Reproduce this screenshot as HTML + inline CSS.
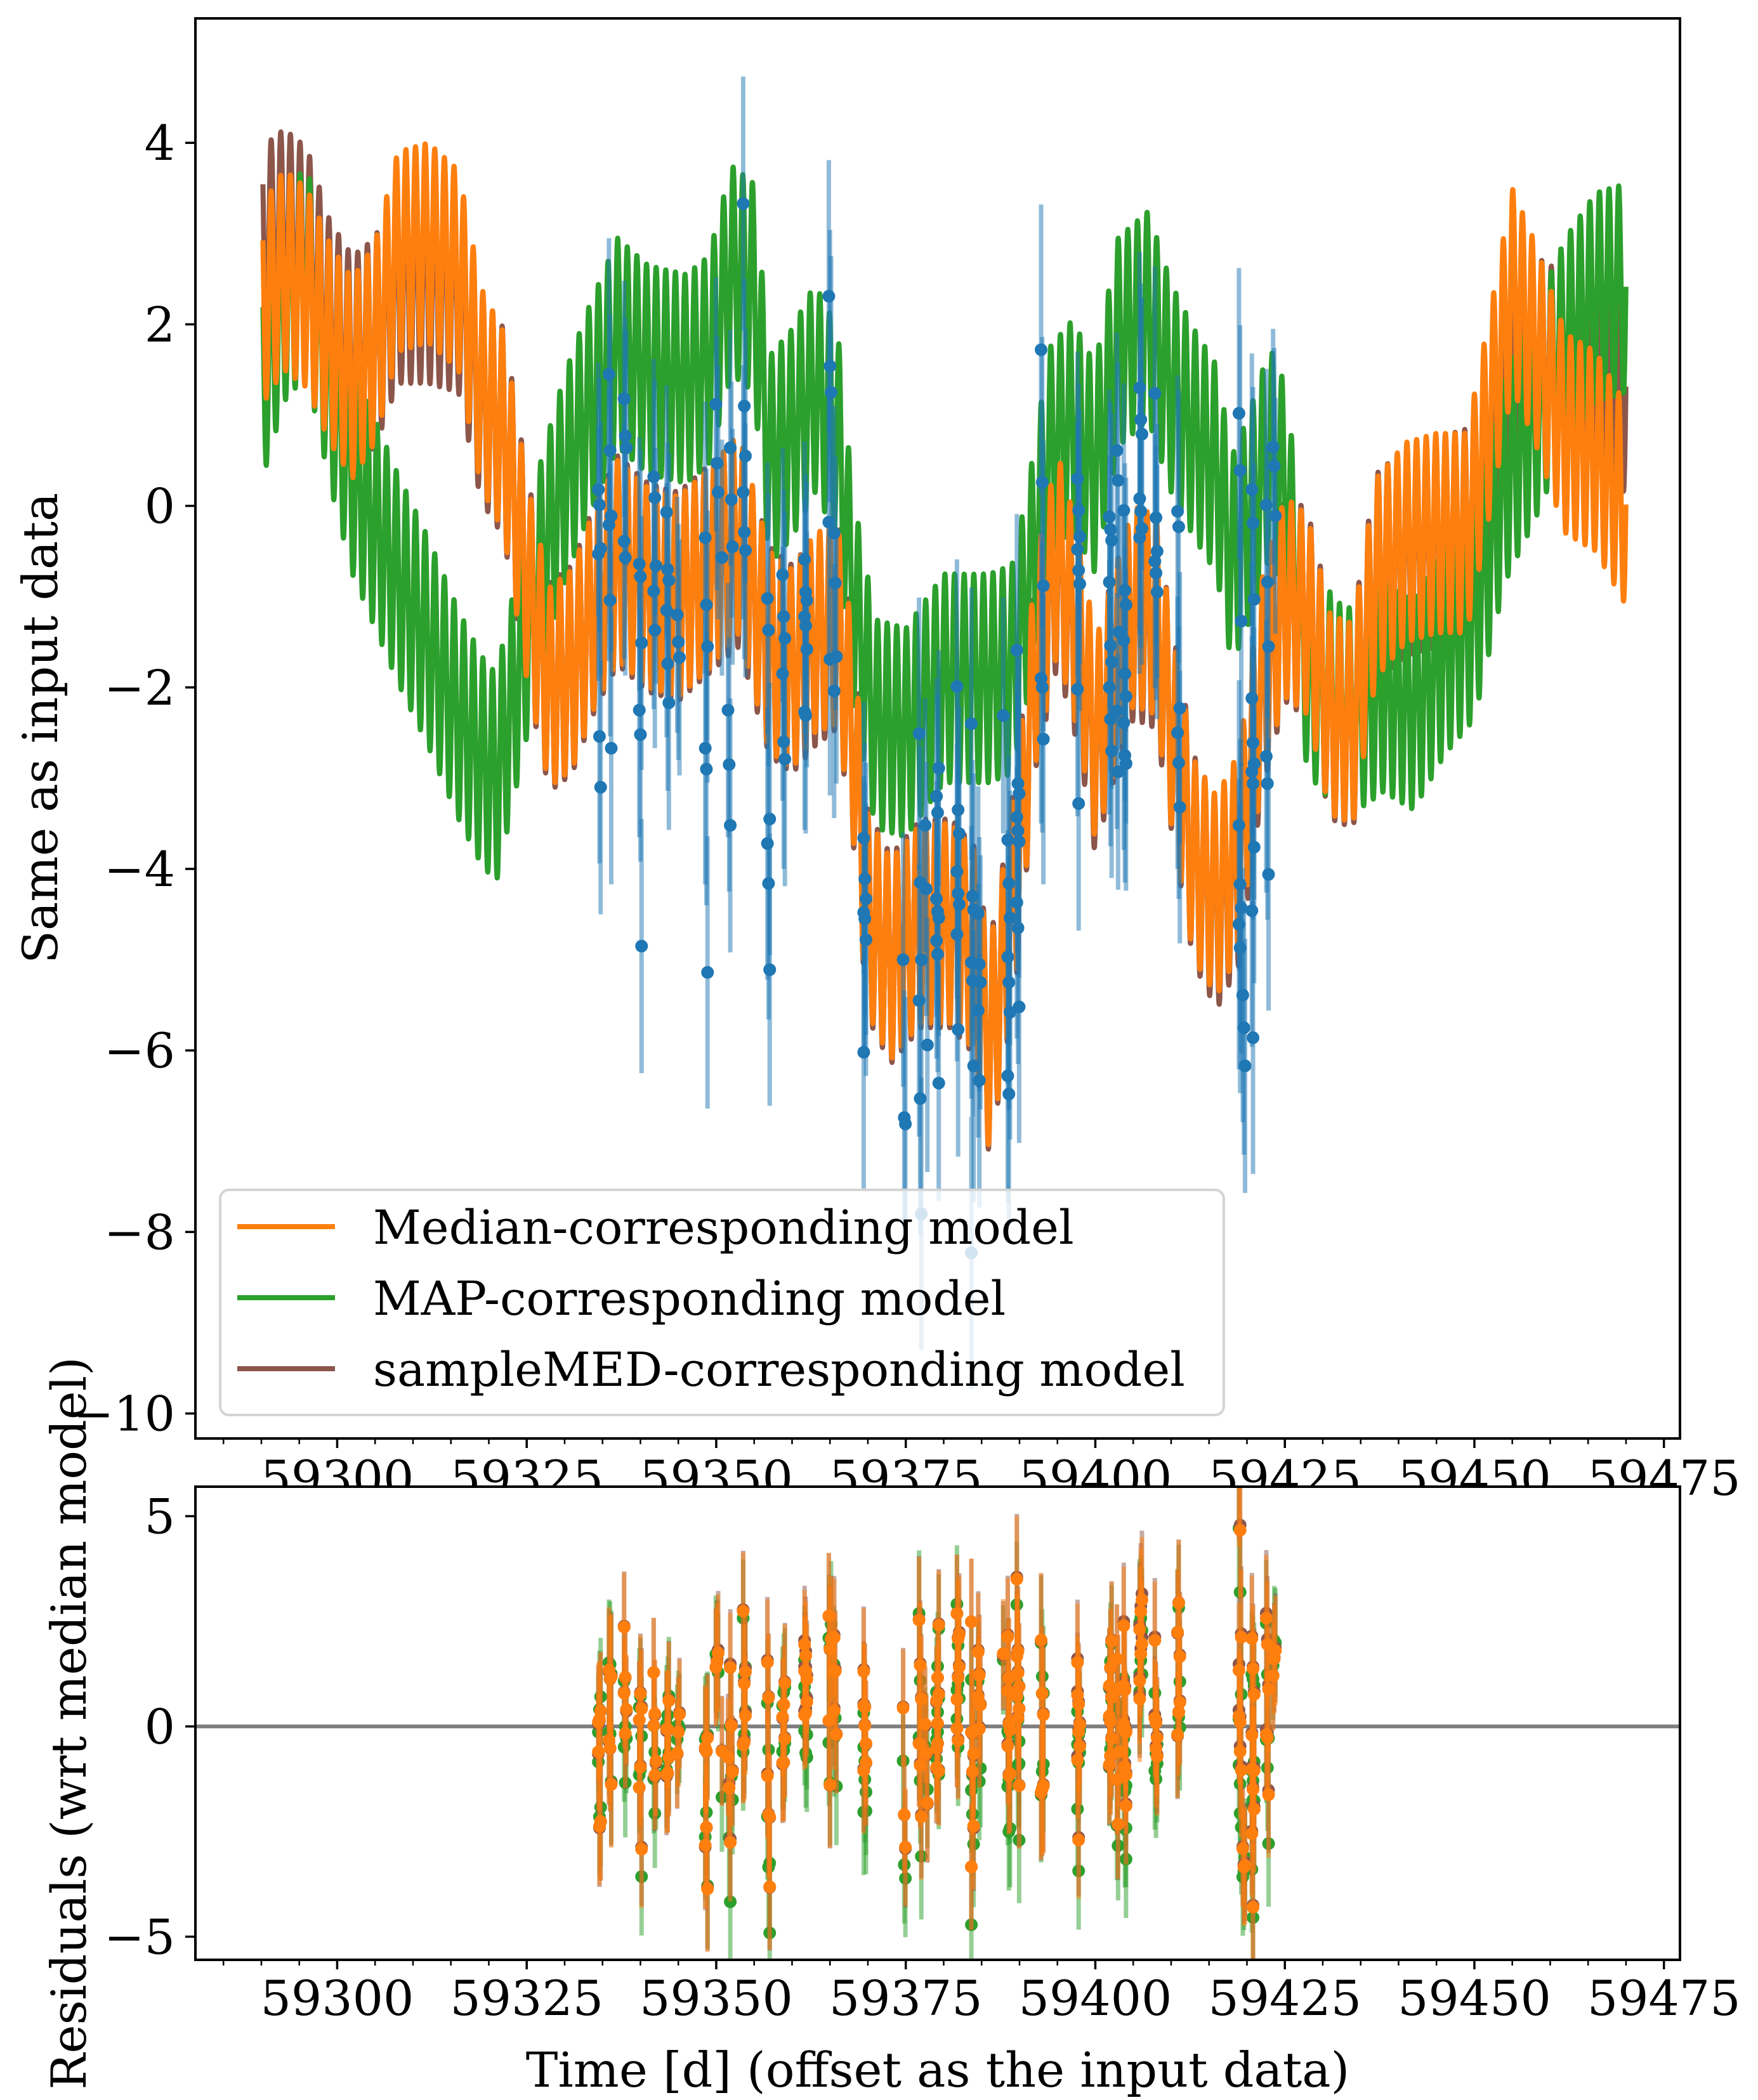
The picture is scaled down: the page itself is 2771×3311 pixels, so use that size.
<!DOCTYPE html>
<html><head><meta charset="utf-8">
<style>
html,body{margin:0;padding:0;background:#fff;}
svg{display:block;}
text{font-family:"DejaVu Serif","Liberation Serif",serif;fill:#000;}
</style></head>
<body>
<svg id="chart" width="2771" height="3311" viewBox="0 0 2771 3311" xmlns="http://www.w3.org/2000/svg">
<defs>
<clipPath id="clipTop"><rect x="308" y="29" width="2340" height="2239"/></clipPath>
<clipPath id="clipBot"><rect x="308" y="2344" width="2340" height="746"/></clipPath>
</defs>
<rect x="0" y="0" width="2771" height="3311" fill="#fff"/>
<g id="topPanel"></g>
<g id="bottomPanel"></g>
</svg>
<script>
// ---- model trends ----
const orangeDays=[59290,59293,59296,59299,59302,59305,59308,59312,59316,59319,59322,59325,59328,59331,59334,59337,59341,59345,59349,59353,59357,59360,59363,59366,59368,59370,59373,59377,59381,59384,59386,59388,59390,59392,59395,59398,59400,59402,59405,59408,59410,59413,59416,59419,59422,59425,59428,59431,59434,59437,59441,59445,59449,59452,59455,59458,59462,59466,59470];
const orangeTrend=[2.2,2.6,2.4,1.8,1.4,1.8,2.8,2.9,2.6,1.3,0.8,-0.8,-2.0,-1.8,-1.1,-0.6,-0.9,-1.0,-0.7,-0.3,-1.6,-1.8,-1.4,-1.3,-2.5,-4.5,-5.0,-4.6,-4.6,-4.9,-6.0,-5.0,-3.8,-1.8,-0.5,-1.5,-2.6,-2.0,-1.1,-1.2,-2.4,-3.9,-4.3,-3.8,-1.9,-1.0,-1.2,-2.3,-2.4,-0.8,-0.4,-0.3,-0.3,1.0,2.4,1.8,0.8,0.6,0.0];
const brownTrend=[2.8,3.0,2.8,2.0,1.6,1.8,2.5,2.5,2.4,1.2,0.8,-0.8,-2.0,-1.8,-1.1,-0.6,-0.9,-1.0,-0.7,-0.4,-1.6,-1.8,-1.5,-1.3,-2.5,-4.5,-5.0,-4.6,-4.6,-4.9,-6.0,-5.0,-3.8,-1.8,-0.6,-1.6,-2.7,-2.0,-1.2,-1.3,-2.4,-3.9,-4.4,-3.9,-2.0,-1.0,-1.2,-2.3,-2.4,-0.8,-0.5,-0.4,-0.3,0.8,1.8,1.6,1.4,1.4,1.3];
const greenDays=[59290,59293,59296,59299,59302,59305,59308,59312,59316,59319,59321,59324,59327,59330,59333,59337,59341,59346,59349,59352,59355,59357,59360,59363,59366,59368,59371,59375,59380,59386,59389,59391,59394,59397,59400,59403,59407,59410,59413,59416,59418,59420,59423,59425,59428,59433,59438,59442,59446,59450,59454,59458,59462,59466,59470];
const greenTrend=[1.4,2.3,2.6,1.4,0.4,-0.2,-0.8,-1.5,-2.3,-2.8,-3.0,-1.8,-0.6,0.3,1.0,1.8,1.5,1.4,1.6,2.6,2.4,0.5,0.8,1.3,0.8,-1.0,-2.4,-2.5,-1.9,-1.9,-1.8,-1.0,0.6,0.9,0.4,1.8,2.1,1.3,0.8,0.4,-0.6,-0.2,0.6,0.2,-1.8,-2.3,-2.0,-2.2,-1.6,-1.2,0.3,1.0,1.8,2.3,2.4];
const modelAmp=[1.1,1.15,1.15]; // orange, green, brown
const oscPeriod=1.2696, oscPeak=59295.1, modelStart=59290.2, modelEnd=59470;

// ---- observations (clusters) ----
const obsDays=[59334.6,59336.0,59338.0,59340.0,59341.9,59343.6,59345.0,59348.7,59350.1,59350.9,59351.7,59352.0,59353.7,59356.9,59358.9,59361.8,59365.0,59365.7,59369.6,59374.8,59376.9,59377.7,59379.2,59381.9,59383.8,59384.7,59388.0,59388.6,59389.8,59393.0,59397.8,59402.0,59403.0,59403.9,59406.0,59408.0,59411.0,59419.1,59419.6,59420.8,59422.7,59423.6];
const obsValues=[[0.18,0.01,-0.47,-0.53,-2.54,-3.10],[1.45,0.61,-0.11,-0.21,-1.04,-2.67],[1.18,0.77,0.64,-0.39,-0.57],[-0.64,-0.78,-1.51,-2.25,-2.52,-4.85],[0.32,0.09,-0.66,-0.94,-1.37],[-0.07,-0.70,-0.82,-1.15,-1.74,-2.17],[-1.20,-1.50,-1.67],[-0.35,-1.09,-1.55,-2.67,-2.90,-5.14],[1.12,0.47,0.15],[-0.57],[-2.25,-2.85,-3.52],[0.64,0.07,-0.45],[3.33,1.10,0.55,0.15,-0.29,-0.49],[-1.02,-1.37,-3.45,-3.72,-4.16,-5.11],[-0.76,-1.22,-1.46,-1.85,-2.60,-2.79],[-0.59,-0.95,-1.04,-1.22,-1.32,-1.58,-2.27,-2.31],[2.31,1.54,1.25,-0.18,-1.69],[-0.30,-0.85,-1.66,-2.04],[-3.66,-4.11,-4.33,-4.48,-4.55,-4.78,-6.02],[-5.0,-6.74,-6.81],[-2.51,-4.15,-5.00,-5.45,-6.53,-7.80],[-3.52,-4.22,-5.94],[-3.20,-3.38,-2.89,-4.33,-4.47,-4.54,-4.79,-4.94,-6.36],[-1.99,-3.35,-3.61,-4.03,-4.27,-4.39,-4.72,-5.77],[-2.40,-4.30,-4.45,-5.03,-5.23,-6.17,-8.23],[-4.49,-5.05,-5.25,-5.56,-6.33],[-2.31],[-3.68,-4.16,-4.54,-4.97,-5.25,-5.58,-6.28,-6.48],[-1.59,-3.06,-3.17,-3.43,-3.58,-3.70,-4.37,-4.65,-5.52],[1.72,0.26,-0.88,-1.90,-2.00,-2.57],[0.30,-0.05,-0.34,-0.48,-0.71,-0.86,-2.02,-3.28],[-0.12,-0.26,-0.38,-0.84,-1.54,-1.72,-2.0,-2.35,-2.70],[0.61,0.28,-1.39,-2.26,-2.93],[-0.05,-0.93,-1.09,-1.48,-1.85,-2.10,-2.39,-2.75,-2.84],[1.30,0.95,0.79,0.08,-0.06,-0.25,-0.35],[1.24,-0.13,-0.50,-0.61,-0.74,-0.95],[-0.06,-0.23,-2.23,-2.50,-2.83,-3.32],[1.02,0.39,-1.27,-3.52,-4.17,-4.43,-4.61,-4.87],[-5.39,-5.75,-6.17],[0.18,-0.19,-1.03,-2.12,-2.61,-2.84,-2.93,-3.06,-3.76,-4.46,-5.86],[0.01,-0.84,-1.55,-2.76,-3.06,-4.06],[0.65,0.44,-0.11]];
const obsErr=[1.4,1.5,1.3,1.4,1.3,1.4,1.3,1.5,1.4,1.3,1.4,1.3,1.4,1.5,1.4,1.3,1.5,1.4,1.5,1.4,1.5,1.4,1.3,1.4,1.5,1.4,1.3,1.4,1.5,1.6,1.4,1.4,1.3,1.4,1.5,1.4,1.5,1.6,1.4,1.5,1.5,1.3];

// ---- ticks ----
const xTicksMajor=[59300,59325,59350,59375,59400,59425,59450,59475];
const xTickLabels=["59300","59325","59350","59375","59400","59425","59450","59475"];
const xTicksMinor=[59285,59290,59295,59305,59310,59315,59320,59330,59335,59340,59345,59355,59360,59365,59370,59380,59385,59390,59395,59405,59410,59415,59420,59430,59435,59440,59445,59455,59460,59465,59470];
const yTopTicks=[4,2,0,-2,-4,-6,-8,-10];
const yTopLabels=["4","2","0","\u22122","\u22124","\u22126","\u22128","\u221210"];
const yBotTicks=[5,0,-5];
const yBotLabels=["5","0","\u22125"];

// ---- geometry ----
const L=308,R=2648,TT=29,TB=2268,BT=2344,BB=3090;
function xS(d){return 308+(d-59281.3)*11.95;}
function yT(v){return 797.6-v*143.1;}
function yB(v){return 2722-v*66.3;}
function interp(ds,vs,t){if(t<=ds[0])return vs[0];for(let i=1;i<ds.length;i++){if(t<=ds[i]){const f=(t-ds[i-1])/(ds[i]-ds[i-1]);return vs[i-1]+f*(vs[i]-vs[i-1]);}}return vs[vs.length-1];}
function osc(t){return Math.cos(2*Math.PI*(t-oscPeak)/oscPeriod);}
function mOrange(t){return interp(orangeDays,orangeTrend,t)+modelAmp[0]*osc(t);}
function mGreen(t){return interp(greenDays,greenTrend,t)+modelAmp[1]*osc(t);}
function mBrown(t){return interp(orangeDays,brownTrend,t)+modelAmp[2]*osc(t);}

const NS="http://www.w3.org/2000/svg";
function mk(tag,attrs,parent){const e=document.createElementNS(NS,tag);for(const k in attrs)e.setAttribute(k,attrs[k]);parent.appendChild(e);return e;}
const topG=document.getElementById('topPanel'), botG=document.getElementById('bottomPanel');

let bg=mk('rect',{x:L,y:TT,width:R-L,height:TB-TT,fill:'#fff'},topG);



const curvesG=mk('g',{'clip-path':'url(#clipTop)'},topG);


function modelPath(fn,color,name){
  let d='';
  for(let t=modelStart;t<=modelEnd;t+=0.03){d+=(d?'L':'M')+xS(t).toFixed(1)+','+yT(fn(t)).toFixed(1);}
  const p=mk('path',{d:d,fill:'none',stroke:color,'stroke-width':8,'stroke-linejoin':'round'},curvesG);
  
  
}
modelPath(mBrown,'#8c564b','samplemed-model-line');
modelPath(mGreen,'#2ca02c','map-model-line');
modelPath(mOrange,'#ff7f0e','median-model-line');

const dataG=mk('g',{'clip-path':'url(#clipTop)'},topG);


obsDays.forEach((d,i)=>{
  obsValues[i].forEach((v,j)=>{
    const t=d+(j%3-1)*0.15;
    const x=xS(t);
    const eb=mk('line',{x1:x,x2:x,y1:yT(v+obsErr[i]),y2:yT(v-obsErr[i]),stroke:'#1f77b4','stroke-opacity':0.5,'stroke-width':7},dataG);
    
    
  });
});
obsDays.forEach((d,i)=>{
  obsValues[i].forEach((v,j)=>{
    const t=d+(j%3-1)*0.15;
    const c=mk('circle',{cx:xS(t),cy:yT(v),r:10,fill:'#1f77b4'},dataG);
    
    
  });
});

const lg=mk('g',{},topG);


mk('rect',{x:347,y:1876,width:1582,height:355,rx:14,fill:'#fff','fill-opacity':0.8,stroke:'#d4d4d4','stroke-width':4},lg);
const legNames=['Median-corresponding model','MAP-corresponding model','sampleMED-corresponding model'];
const legColors=['#ff7f0e','#2ca02c','#8c564b'];
const legIds=['legend-entry-median','legend-entry-map','legend-entry-samplemed'];
legNames.forEach((n,i)=>{
  const yb=1961+i*112;
  const g=mk('g',{},lg);
  
  
  mk('line',{x1:374,x2:528,y1:yb-27,y2:yb-27,stroke:legColors[i],'stroke-width':8},g);
  const tx=mk('text',{x:588,y:yb,'font-size':74},g);
  tx.textContent=n;
});

const tAx=mk('g',{},topG);


mk('rect',{x:L,y:TT,width:R-L,height:TB-TT,fill:'none',stroke:'#000','stroke-width':4},tAx);
yTopTicks.forEach((v,i)=>{
  const y=yT(v);
  mk('line',{x1:L-16,x2:L,y1:y,y2:y,stroke:'#000','stroke-width':3.5},tAx);
  const t=mk('text',{x:276,y:y+27,'font-size':76,'text-anchor':'end'},tAx);
  
  
  t.textContent=yTopLabels[i];
});
function xTicks(g,yAxis,labelBase){
  xTicksMajor.forEach((d,i)=>{
    const x=xS(d);
    mk('line',{x1:x,x2:x,y1:yAxis,y2:yAxis+15,stroke:'#000','stroke-width':3.5},g);
    const t=mk('text',{x:x,y:labelBase,'font-size':76,'text-anchor':'middle'},g);
    
    
    t.textContent=xTickLabels[i];
  });
  xTicksMinor.forEach(d=>{const x=xS(d);mk('line',{x1:x,x2:x,y1:yAxis,y2:yAxis+9,stroke:'#000','stroke-width':2.5},g);});
}
xTicks(tAx,TB,2357);

const yl=mk('text',{x:0,y:0,'font-size':76,'text-anchor':'middle',transform:'translate(90,1148) rotate(-90)'},topG);


yl.textContent='Same as input data';

let bbg=mk('rect',{x:L,y:BT,width:R-L,height:BB-BT,fill:'#fff'},botG);


const zl=mk('line',{x1:L,x2:R,y1:yB(0),y2:yB(0),stroke:'#808080','stroke-width':6},botG);



function resid(fn,color,name){
  const g=mk('g',{'clip-path':'url(#clipBot)'},botG);
  
  
  obsDays.forEach((d,i)=>{
    obsValues[i].forEach((v,j)=>{
      const t=d+(j%3-1)*0.15;
      const r=v-fn(t);
      const x=xS(t);
      const eb=mk('line',{x1:x,x2:x,y1:yB(r+obsErr[i]),y2:yB(r-obsErr[i]),stroke:color,'stroke-opacity':0.5,'stroke-width':7},g);
      
      
    });
  });
  obsDays.forEach((d,i)=>{
    obsValues[i].forEach((v,j)=>{
      const t=d+(j%3-1)*0.15;
      const r=v-fn(t);
      const c=mk('circle',{cx:xS(t),cy:yB(r),r:10,fill:color},g);
      
      
    });
  });
}
function mGreenRes(t){return 0.8*interp(orangeDays,orangeTrend,t)+0.2*interp(greenDays,greenTrend,t)+modelAmp[1]*osc(t+0.15);}
resid(mGreenRes,'#2ca02c','residuals-map');
resid(mBrown,'#8c564b','residuals-samplemed');
resid(mOrange,'#ff7f0e','residuals-median');

const bAx=mk('g',{},botG);


mk('rect',{x:L,y:BT,width:R-L,height:BB-BT,fill:'none',stroke:'#000','stroke-width':4},bAx);
yBotTicks.forEach((v,i)=>{
  const y=yB(v);
  mk('line',{x1:L-16,x2:L,y1:y,y2:y,stroke:'#000','stroke-width':3.5},bAx);
  const t=mk('text',{x:276,y:y+27,'font-size':76,'text-anchor':'end'},bAx);
  
  
  t.textContent=yBotLabels[i];
});
xTicks(bAx,BB,3177);

const xl=mk('text',{x:1478,y:3290,'font-size':76,'text-anchor':'middle'},botG);


xl.textContent='Time [d] (offset as the input data)';
const yl2=mk('text',{x:0,y:0,'font-size':76,'text-anchor':'middle',transform:'translate(135,2717) rotate(-90)'},botG);


yl2.textContent='Residuals (wrt median model)';
</script>
</body></html>
